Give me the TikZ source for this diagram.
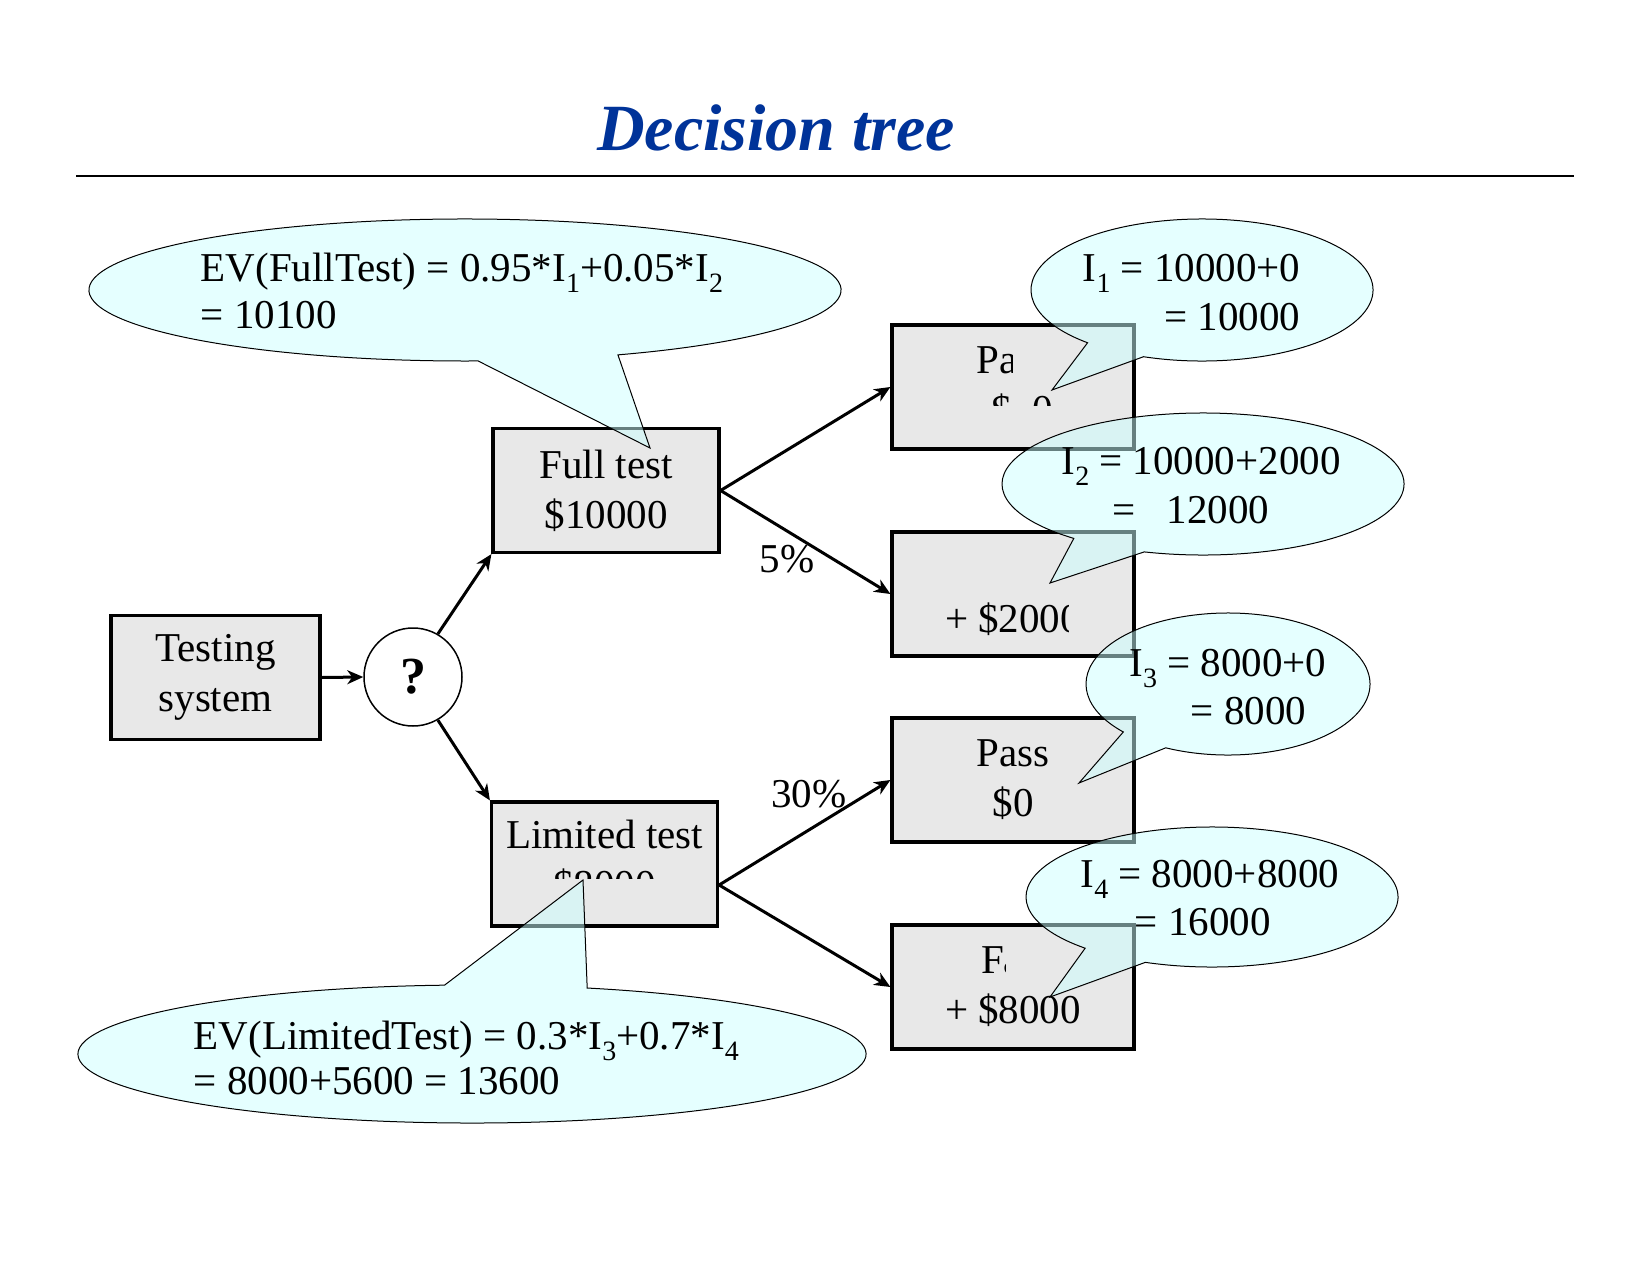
\documentclass[tikz,border=0pt]{standalone}
\usepackage{fontspec}
\setmainfont{Liberation Serif}
\usetikzlibrary{arrows.meta}

\definecolor{boxgray}{RGB}{232,232,232}
\definecolor{bubble}{RGB}{204,255,255}
\definecolor{titleblue}{RGB}{0,51,153}

\newcommand{\isub}[1]{\raisebox{-0.28em}{\fontsize{14}{14}\selectfont #1}}

\tikzset{every picture/.style={line width=0.75pt}}
\tikzset{
  box/.style={draw, line width=1.6pt, fill=boxgray, minimum height=62pt, inner sep=0pt, align=center, font=\fontsize{20.5}{25}\selectfont},
  txt/.style={inner sep=0pt, font=\fontsize{20.5}{25}\selectfont},
  bubbleshape/.style={draw, line width=0.5pt, fill=bubble, fill opacity=0.5},
  arr/.style={line width=1.5pt, -{Stealth[length=8pt,width=7pt,inset=2.5pt]}},
}

\begin{document}
\begin{tikzpicture}[x=0.5pt,y=0.5pt,yscale=-1,xscale=1]
\useasboundingbox (0,0) rectangle (1649,1274);

% Text Node
\node[txt, anchor=base, font=\fontsize{33}{40}\selectfont\bfseries\itshape, text=titleblue] (title) at (776,150) {Decision tree};
%Straight Lines
\draw[line width=0.7pt] (76,176) -- (1574,176);

%Shape: Rectangle
\node[box, minimum width=104.5pt] (testing) at (215.5,677.5) {Testing\\system};
%Shape: Circle
\node[circle, draw, fill=white, minimum size=49pt, inner sep=0pt, font=\fontsize{26}{30}\selectfont\bfseries] (choice) at (413,677) {?};
%Shape: Rectangle
\node[box, minimum width=113pt] (full) at (606,490.5) {Full test\\\$10000};
\node[box, minimum width=113pt] (limited) at (604.5,864) {};
\node[box, minimum width=121pt] (passa) at (1013,387) {};
\node[box, minimum width=121pt] (faila) at (1013,594) {};
\node[box, minimum width=121pt] (passb) at (1013,780) {Pass\\\$0};
\node[box, minimum width=121pt] (failb) at (1013,987) {};

%Straight Lines
\draw[arr] (testing.east) -- (choice.west);
\draw[arr] (choice.60) -- (full.south west);
\draw[arr] (choice.-60) -- (limited.north west);
\draw[arr] (full.east) -- (passa.west);
\draw[arr] (full.east) -- (faila.west);
\coordinate (limout) at ([yshift=10.5pt]limited.east);
\draw[arr] (limout) -- (passb.west);
\draw[arr] (limout) -- (failb.west);

% Text Node
\node[txt, anchor=base] (pfive) at (787,572) {5\%};
\node[txt, anchor=base] (pthirty) at (809,807) {30\%};

%Shape: Callout
\draw[bubbleshape] (465,290) ++(66:376 and 71) arc[start angle=66, end angle=-272, x radius=376, y radius=71] -- (650,448) -- cycle;
\draw[bubbleshape] (1202,290) ++(110:171 and 71) arc[start angle=110, end angle=-228, x radius=171, y radius=71] -- (1052,390) -- cycle;
\draw[bubbleshape] (1203,484) ++(107:201 and 71) arc[start angle=107, end angle=-230, x radius=201, y radius=71] -- (1050,583) -- cycle;
\draw[bubbleshape] (1228,684) ++(116:142 and 71) arc[start angle=116, end angle=-222.5, x radius=142, y radius=71] -- (1079,783) -- cycle;
\draw[bubbleshape] (1212,897) ++(111:186 and 70) arc[start angle=111, end angle=-227, x radius=186, y radius=70] -- (1050,997) -- cycle;
\draw[bubbleshape] (472,1054) ++(-73:394 and 69) arc[start angle=-73, end angle=266, x radius=394, y radius=69] -- (583,880) -- cycle;

% Text Node
\node[txt, anchor=base west] (evfulla) at (200,281) {EV(FullTest) = 0.95*I\isub{1}+0.05*I\isub{2}};
\node[txt, anchor=base west] (evfullb) at (200,328) {= 10100};
\node[txt, anchor=base east] (ionea) at (1301,281) {I\isub{1} = 10000+0};
\node[txt, anchor=base east] (ioneb) at (1301,330) {= 10000};
\node[txt, anchor=base west] (itwoa) at (1061,474) {I\isub{2} = 10000+2000};
\node[txt, anchor=base east] (itwob) at (1270,523) {=\ \ \ 12000};
\node[txt, anchor=base east] (ithreea) at (1327,676) {I\isub{3} = 8000+0};
\node[txt, anchor=base east] (ithreeb) at (1307,724) {= 8000};
\node[txt, anchor=base west] (ifoura) at (1080,887) {I\isub{4} = 8000+8000};
\node[txt, anchor=base west] (ifourb) at (1134,935) {= 16000};
\node[txt, anchor=base west] (evlima) at (193,1049) {EV(LimitedTest) = 0.3*I\isub{3}+0.7*I\isub{4}};
\node[txt, anchor=base west] (evlimb) at (193,1094) {= 8000+5600 = 13600};

% Text Node
\node[txt, anchor=base] (limtop) at (604.5,848) {Limited test};
\begin{scope}
\clip (492,802) rectangle (717,878);
\node[txt, anchor=base] (limcost) at (604.5,898) {\$8000};
\end{scope}
\begin{scope}
\clip (892,325) rectangle (1012,449);
\node[txt, anchor=base] (passatop) at (1013,373) {Pass};
\end{scope}
\begin{scope}
\clip (892,325) rectangle (1134,405);
\node[txt, anchor=base west] (passacost) at (991,423) {\$\ \ 0};
\end{scope}
\begin{scope}
\clip (892,532) rectangle (1068,656);
\node[txt, anchor=base] (failacost) at (1013,632) {+ \$2000};
\end{scope}
\begin{scope}
\clip (892,925) rectangle (1005,1049);
\node[txt, anchor=base] (failbtop) at (1013,973) {Fail};
\end{scope}
\node[txt, anchor=base] (failbcost) at (1013,1023) {+ \$8000};
\end{tikzpicture}
\end{document}
